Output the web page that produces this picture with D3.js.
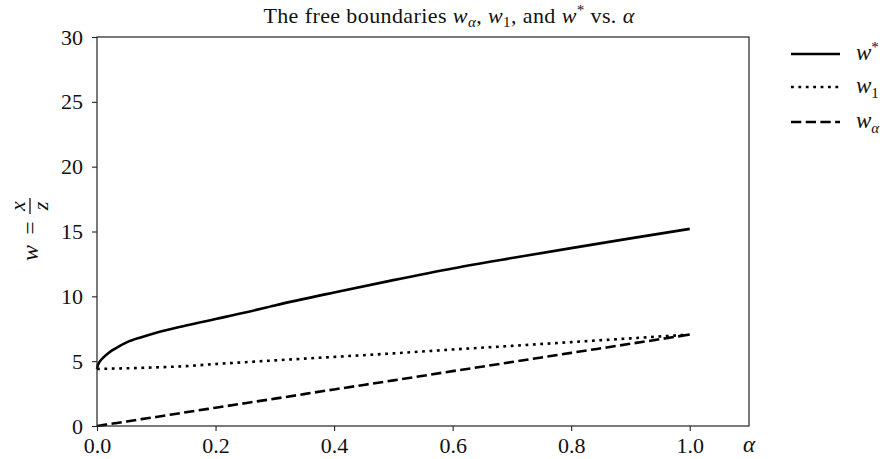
<!DOCTYPE html>
<html><head><meta charset="utf-8">
<script src="https://cdn.jsdelivr.net/npm/d3@7"></script>
<style>body{margin:0;background:#fff}svg text{font-family:"Liberation Serif","DejaVu Serif",serif;fill:#111}</style>
</head><body><svg id="c" width="886" height="459"></svg>
<script>
const alpha  = [0, 0.001, 0.003, 0.006, 0.01, 0.02, 0.03, 0.05, 0.075, 0.1, 0.15, 0.2, 0.25, 0.3, 0.4, 0.5, 0.6, 0.7, 0.8, 0.9, 1.0];
const wStar  = [4.4, 4.62, 4.85, 5.05, 5.25, 5.65, 5.95, 6.45, 6.85, 7.2, 7.75, 8.25, 8.75, 9.3, 10.3, 11.25, 12.15, 12.95, 13.72, 14.47, 15.2];
const wOne   = [4.4, 4.4, 4.4, 4.41, 4.41, 4.42, 4.43, 4.45, 4.48, 4.52, 4.62, 4.78, 4.92, 5.06, 5.33, 5.6, 5.9, 6.18, 6.47, 6.76, 7.05];
const wAlpha = [0, 0.007, 0.021, 0.042, 0.07, 0.14, 0.21, 0.35, 0.53, 0.7, 1.06, 1.41, 1.76, 2.11, 2.82, 3.52, 4.23, 4.93, 5.64, 6.34, 7.05];
const xTicks = [0, 0.2, 0.4, 0.6, 0.8, 1.0];
const yTicks = [0, 5, 10, 15, 20, 25, 30];

const svg = d3.select("#c");
const L = 97, R = 749, T = 37, B = 426;
const x = d3.scaleLinear().domain([0, 1.1]).range([L, R]);
const y = d3.scaleLinear().domain([0, 30]).range([B, T]);

const series = [
  {vals: wStar, dash: null},
  {vals: wOne, dash: "2.8,4.6"},
  {vals: wAlpha, dash: "10.3,4.4"}
];
const line = d3.line().curve(d3.curveMonotoneX);
const plotG = svg.append("g");
series.forEach(s => {
  plotG.append("path")
    .attr("d", line(alpha.map((a, i) => [x(a), y(s.vals[i])])))
    .attr("fill", "none").attr("stroke", "#000").attr("stroke-width", 2.6)
    .attr("stroke-dasharray", s.dash);
});

// axes
const xa = svg.append("g").attr("transform", `translate(0,${B})`)
  .call(d3.axisBottom(x).tickValues(xTicks).tickFormat(d3.format(".1f")).tickSize(5).tickSizeOuter(0).tickPadding(6));
const ya = svg.append("g").attr("transform", `translate(${L},0)`)
  .call(d3.axisLeft(y).tickValues(yTicks).tickFormat(d3.format("d")).tickSize(5).tickSizeOuter(0).tickPadding(9));
[xa, ya].forEach(g => {
  g.select(".domain").remove();
  g.selectAll("line").attr("stroke", "#222").attr("stroke-width", 1.1);
  g.selectAll("text").attr("font-size", 22).attr("font-family", "Liberation Serif").attr("fill", "#111");
});
svg.append("rect").attr("x", L).attr("y", T).attr("width", R - L).attr("height", B - T)
  .attr("fill", "none").attr("stroke", "#222").attr("stroke-width", 1.2);

// x label
svg.append("text").attr("x", 749).attr("y", 452).attr("text-anchor", "middle")
  .attr("font-size", 23).attr("font-style", "italic").text("α");

// title
const t = svg.append("text").attr("x", 449).attr("y", 23).attr("text-anchor", "middle")
  .attr("font-size", 22).attr("letter-spacing", 0.4);
t.append("tspan").text("The free boundaries ");
t.append("tspan").attr("font-style", "italic").text("w");
t.append("tspan").attr("font-style", "italic").attr("font-size", 15).attr("dy", 4).text("α");
t.append("tspan").attr("dy", -4).text(", ");
t.append("tspan").attr("font-style", "italic").text("w");
t.append("tspan").attr("font-size", 15).attr("dy", 4).text("1");
t.append("tspan").attr("dy", -4).text(", and ");
t.append("tspan").attr("font-style", "italic").text("w");
t.append("tspan").attr("font-size", 15).attr("dy", -8).text("*");
t.append("tspan").attr("dy", 8).text(" vs. ");
t.append("tspan").attr("font-style", "italic").text("α");

// y label
const yl = svg.append("g").attr("transform", "translate(32,231) rotate(-90)");
yl.append("text").attr("x", -22).attr("y", 6).attr("text-anchor", "middle").attr("font-size", 24).attr("font-style", "italic").text("w");
yl.append("text").attr("x", 3).attr("y", 6).attr("text-anchor", "middle").attr("font-size", 24).text("=");
yl.append("text").attr("x", 25).attr("y", -7).attr("text-anchor", "middle").attr("font-size", 22).attr("font-style", "italic").text("x");
yl.append("line").attr("x1", 17).attr("x2", 33).attr("y1", -2).attr("y2", -2).attr("stroke", "#111").attr("stroke-width", 1.3);
yl.append("text").attr("x", 25).attr("y", 16).attr("text-anchor", "middle").attr("font-size", 22).attr("font-style", "italic").text("z");

// legend
const legY = [54, 87, 122];
const legLab = [["w", "*", "sup"], ["w", "1", "sub"], ["w", "α", "sub"]];
series.forEach((s, i) => {
  svg.append("line").attr("x1", 791).attr("x2", 840).attr("y1", legY[i]).attr("y2", legY[i])
    .attr("stroke", "#000").attr("stroke-width", 2.6).attr("stroke-dasharray", s.dash);
  const tx = svg.append("text").attr("x", 856).attr("y", legY[i] + 6).attr("font-size", 23);
  tx.append("tspan").attr("font-style", "italic").text(legLab[i][0]);
  const sub = legLab[i][2] === "sub";
  tx.append("tspan").attr("font-size", 15).attr("dy", sub ? 5 : -8)
    .attr("font-style", legLab[i][1] === "α" ? "italic" : null).text(legLab[i][1]);
});
</script></body></html>
